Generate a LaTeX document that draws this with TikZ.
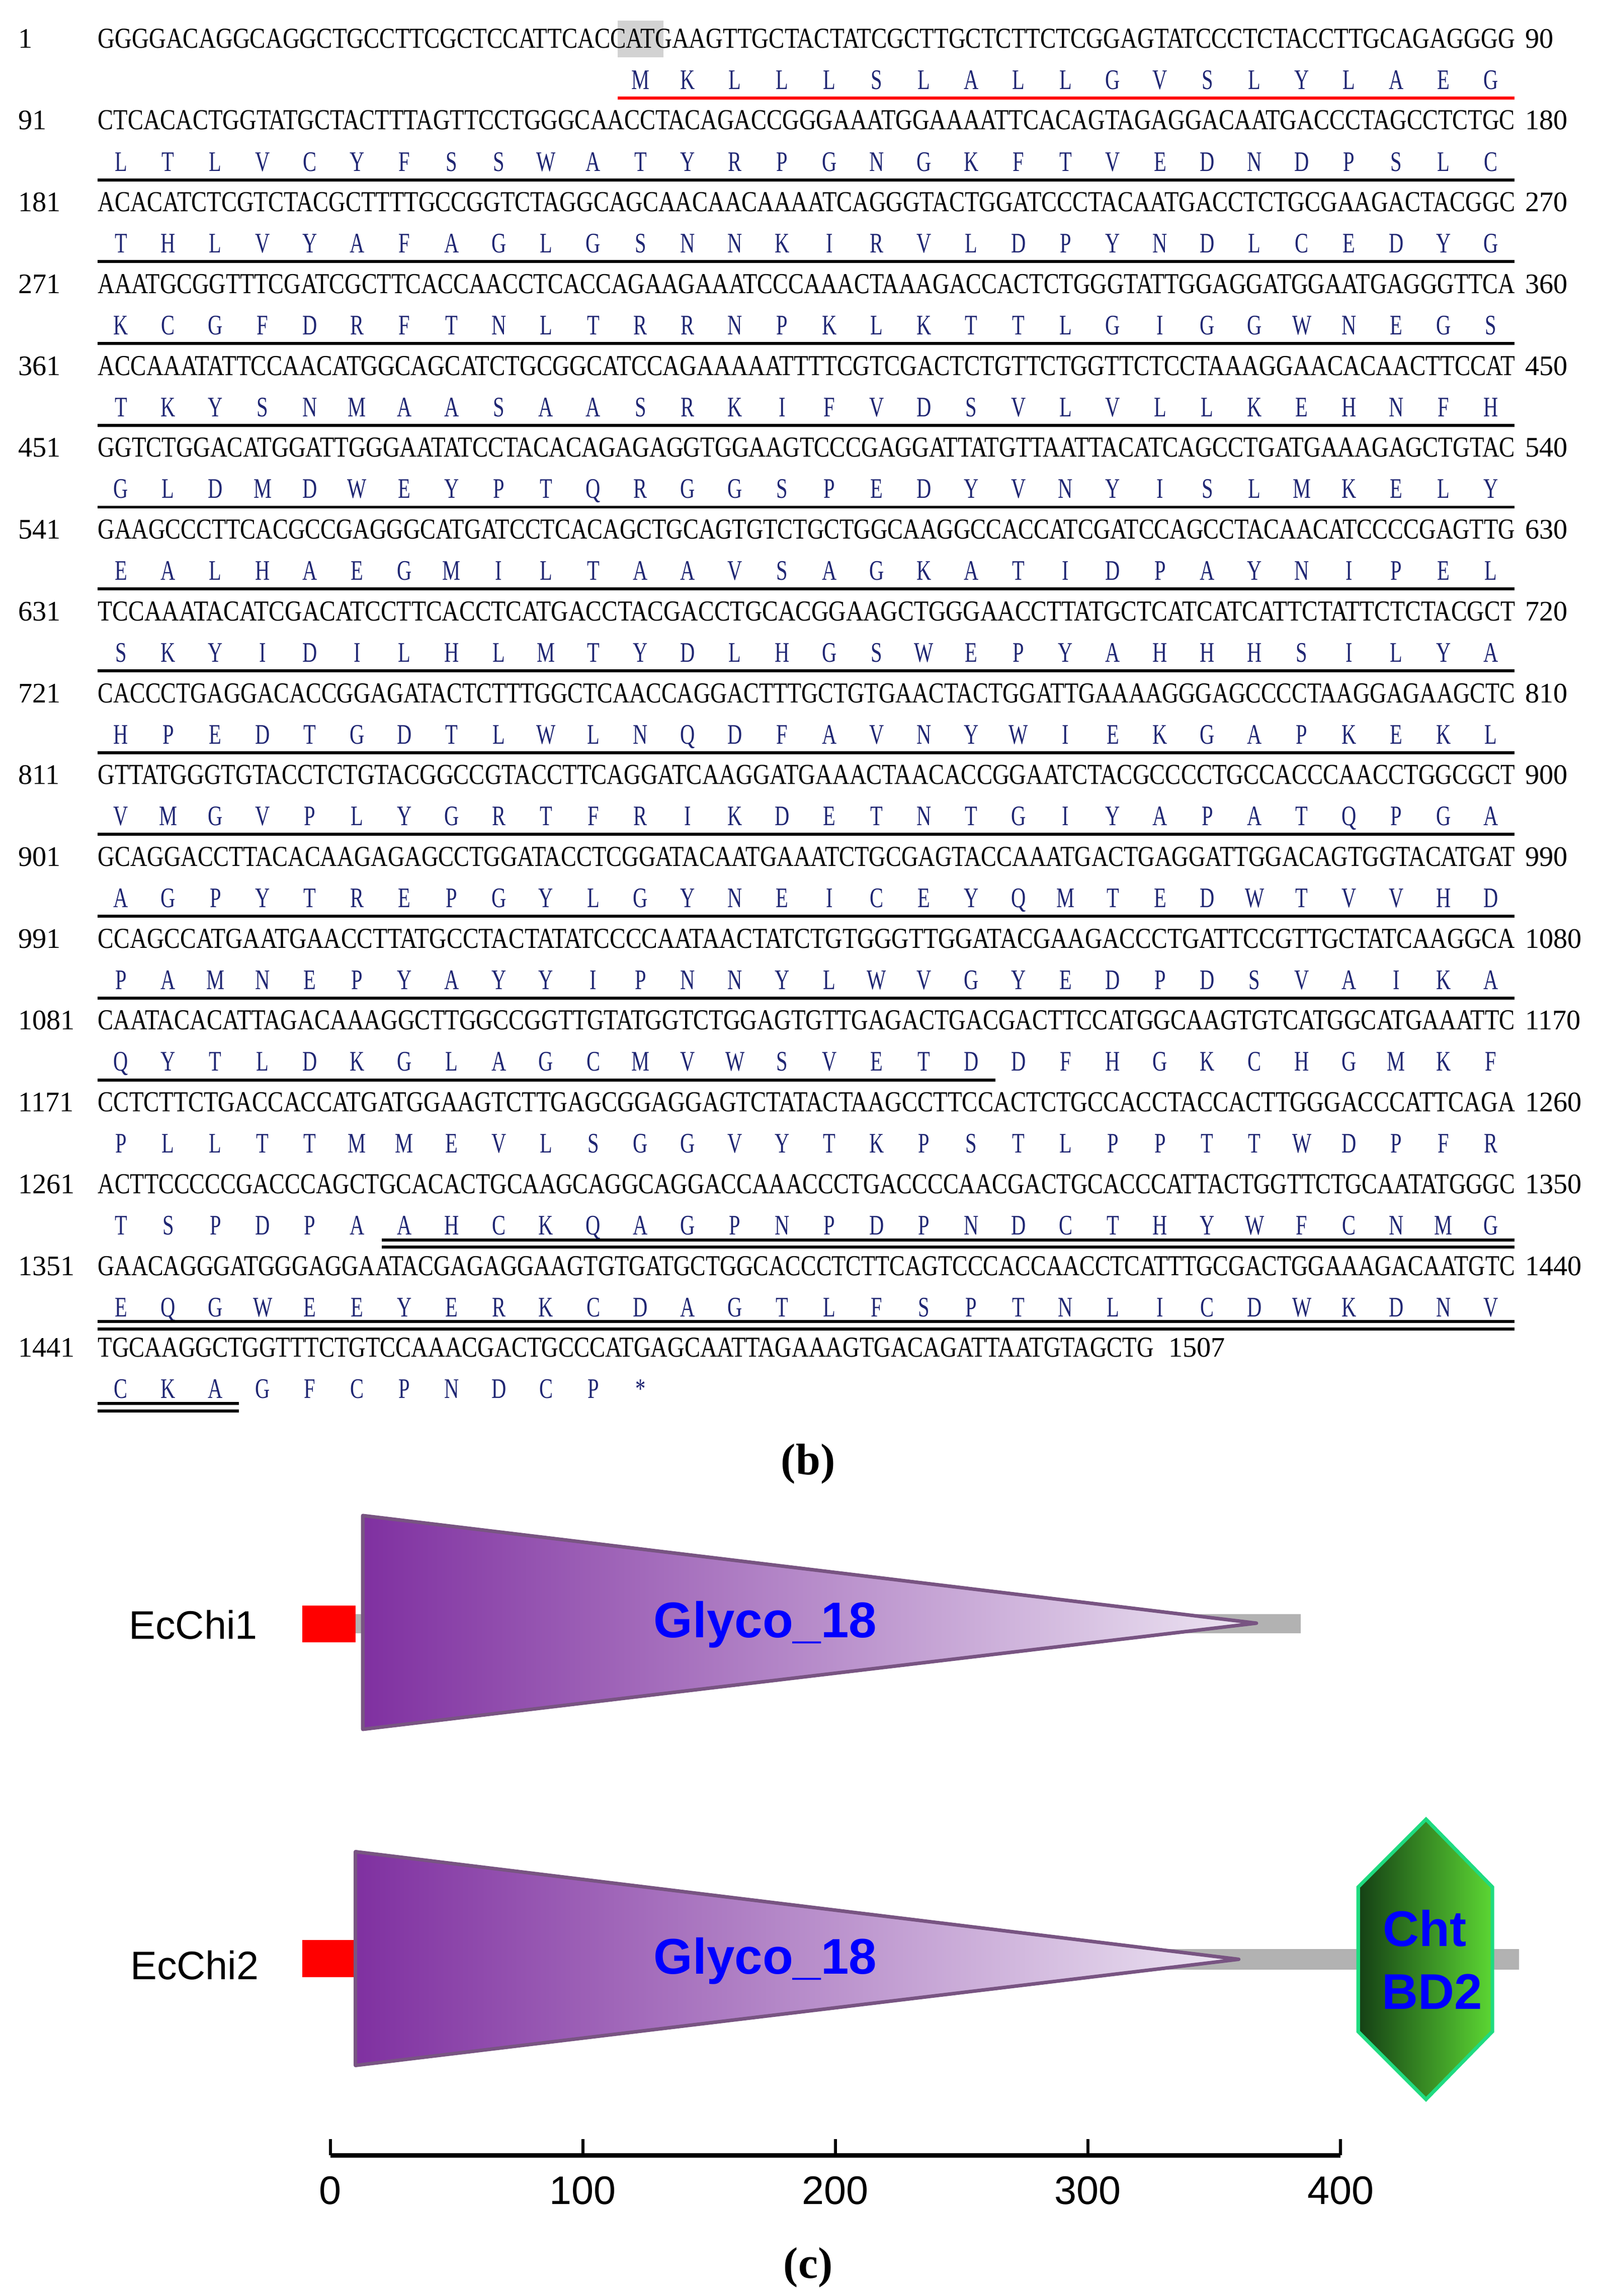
\documentclass[tikz,border=0pt]{standalone}
\usepackage{fontspec}
\setmainfont{Liberation Serif}
\setsansfont{Liberation Sans}
\usepackage{graphicx}
\usetikzlibrary{calc}

\definecolor{aablue}{rgb}{0.12,0.15,0.45}
\definecolor{glyleft}{rgb}{0.50,0.19,0.63}
\definecolor{glyright}{rgb}{0.93,0.90,0.95}
\definecolor{glyedge}{rgb}{0.47,0.33,0.51}
\definecolor{chtleft}{rgb}{0.08,0.25,0.08}
\definecolor{chtright}{rgb}{0.36,0.84,0.20}
\definecolor{chtedge}{rgb}{0.12,0.86,0.50}

\tikzset{
  numlab/.style={anchor=base west,inner sep=0,font=\fontsize{9.6}{10}\selectfont},
  aalab/.style={anchor=base,inner sep=0,text=aablue},
  uline/.style={line width=1pt},
  redline/.style={line width=1pt,color=red},
  protlab/.style={font=\sffamily\fontsize{13.5}{16}\selectfont},
  domlab/.style={font=\sffamily\bfseries\fontsize{17}{20}\selectfont,text=blue},
  ticklab/.style={font=\sffamily\fontsize{13.5}{16}\selectfont},
  panellab/.style={font=\bfseries\fontsize{15}{18}\selectfont}
}

% #1 row, #2 left number, #3 bases, #4 right number, #5 width in units
\newcommand{\ntrow}[5]{%
  \node[numlab] (l#1) at (12,{32.5+55.5*(#1-1)}) {#2};
  \node[anchor=base west,inner sep=0] (s#1) at (66,{32.5+55.5*(#1-1)})
    {\resizebox{#5\sequnit}{6.5pt}{#3}};
  \node[numlab] (r#1) at ([xshift=3pt]s#1.base east) {#4};
}
% #1 row, #2 codon offset, #3 residues
\newcommand{\aarow}[3]{%
  \foreach \res [count=\k] in {#3}
    \node[aalab] (a#1-\k) at ({66+32.03*(#2+\k-0.5)},{60.5+55.5*(#1-1)})
      {\scalebox{0.72}[1]{\fontsize{9.6}{10}\selectfont\res}};
}
\newlength{\sequnit}
\setlength{\sequnit}{0.5pt}

\begin{document}
\begin{tikzpicture}[x=0.5pt,y=0.5pt,yscale=-1]
\useasboundingbox (0,0) rectangle (1085,1557.4);

% (b) sequence
\fill[gray!35] (419,14) rectangle (450,39);
\ntrow{1}{1}{GGGGACAGGCAGGCTGCCTTCGCTCCATTCACCATGAAGTTGCTACTATCGCTTGCTCTTCTCGGAGTATCCCTCTACCTTGCAGAGGGG}{90}{961}
\ntrow{2}{91}{CTCACACTGGTATGCTACTTTAGTTCCTGGGCAACCTACAGACCGGGAAATGGAAAATTCACAGTAGAGGACAATGACCCTAGCCTCTGC}{180}{961}
\ntrow{3}{181}{ACACATCTCGTCTACGCTTTTGCCGGTCTAGGCAGCAACAACAAAATCAGGGTACTGGATCCCTACAATGACCTCTGCGAAGACTACGGC}{270}{961}
\ntrow{4}{271}{AAATGCGGTTTCGATCGCTTCACCAACCTCACCAGAAGAAATCCCAAACTAAAGACCACTCTGGGTATTGGAGGATGGAATGAGGGTTCA}{360}{961}
\ntrow{5}{361}{ACCAAATATTCCAACATGGCAGCATCTGCGGCATCCAGAAAAATTTTCGTCGACTCTGTTCTGGTTCTCCTAAAGGAACACAACTTCCAT}{450}{961}
\ntrow{6}{451}{GGTCTGGACATGGATTGGGAATATCCTACACAGAGAGGTGGAAGTCCCGAGGATTATGTTAATTACATCAGCCTGATGAAAGAGCTGTAC}{540}{961}
\ntrow{7}{541}{GAAGCCCTTCACGCCGAGGGCATGATCCTCACAGCTGCAGTGTCTGCTGGCAAGGCCACCATCGATCCAGCCTACAACATCCCCGAGTTG}{630}{961}
\ntrow{8}{631}{TCCAAATACATCGACATCCTTCACCTCATGACCTACGACCTGCACGGAAGCTGGGAACCTTATGCTCATCATCATTCTATTCTCTACGCT}{720}{961}
\ntrow{9}{721}{CACCCTGAGGACACCGGAGATACTCTTTGGCTCAACCAGGACTTTGCTGTGAACTACTGGATTGAAAAGGGAGCCCCTAAGGAGAAGCTC}{810}{961}
\ntrow{10}{811}{GTTATGGGTGTACCTCTGTACGGCCGTACCTTCAGGATCAAGGATGAAACTAACACCGGAATCTACGCCCCTGCCACCCAACCTGGCGCT}{900}{961}
\ntrow{11}{901}{GCAGGACCTTACACAAGAGAGCCTGGATACCTCGGATACAATGAAATCTGCGAGTACCAAATGACTGAGGATTGGACAGTGGTACATGAT}{990}{961}
\ntrow{12}{991}{CCAGCCATGAATGAACCTTATGCCTACTATATCCCCAATAACTATCTGTGGGTTGGATACGAAGACCCTGATTCCGTTGCTATCAAGGCA}{1080}{961}
\ntrow{13}{1081}{CAATACACATTAGACAAAGGCTTGGCCGGTTGTATGGTCTGGAGTGTTGAGACTGACGACTTCCATGGCAAGTGTCATGGCATGAAATTC}{1170}{961}
\ntrow{14}{1171}{CCTCTTCTGACCACCATGATGGAAGTCTTGAGCGGAGGAGTCTATACTAAGCCTTCCACTCTGCCACCTACCACTTGGGACCCATTCAGA}{1260}{961}
\ntrow{15}{1261}{ACTTCCCCCGACCCAGCTGCACACTGCAAGCAGGCAGGACCAAACCCTGACCCCAACGACTGCACCCATTACTGGTTCTGCAATATGGGC}{1350}{961}
\ntrow{16}{1351}{GAACAGGGATGGGAGGAATACGAGAGGAAGTGTGATGCTGGCACCCTCTTCAGTCCCACCAACCTCATTTGCGACTGGAAAGACAATGTC}{1440}{961}
\ntrow{17}{1441}{TGCAAGGCTGGTTTCTGTCCAAACGACTGCCCATGAGCAATTAGAAAGTGACAGATTAATGTAGCTG}{\,1507}{716}

\aarow{1}{11}{M,K,L,L,L,S,L,A,L,L,G,V,S,L,Y,L,A,E,G}
\aarow{2}{0}{L,T,L,V,C,Y,F,S,S,W,A,T,Y,R,P,G,N,G,K,F,T,V,E,D,N,D,P,S,L,C}
\aarow{3}{0}{T,H,L,V,Y,A,F,A,G,L,G,S,N,N,K,I,R,V,L,D,P,Y,N,D,L,C,E,D,Y,G}
\aarow{4}{0}{K,C,G,F,D,R,F,T,N,L,T,R,R,N,P,K,L,K,T,T,L,G,I,G,G,W,N,E,G,S}
\aarow{5}{0}{T,K,Y,S,N,M,A,A,S,A,A,S,R,K,I,F,V,D,S,V,L,V,L,L,K,E,H,N,F,H}
\aarow{6}{0}{G,L,D,M,D,W,E,Y,P,T,Q,R,G,G,S,P,E,D,Y,V,N,Y,I,S,L,M,K,E,L,Y}
\aarow{7}{0}{E,A,L,H,A,E,G,M,I,L,T,A,A,V,S,A,G,K,A,T,I,D,P,A,Y,N,I,P,E,L}
\aarow{8}{0}{S,K,Y,I,D,I,L,H,L,M,T,Y,D,L,H,G,S,W,E,P,Y,A,H,H,H,S,I,L,Y,A}
\aarow{9}{0}{H,P,E,D,T,G,D,T,L,W,L,N,Q,D,F,A,V,N,Y,W,I,E,K,G,A,P,K,E,K,L}
\aarow{10}{0}{V,M,G,V,P,L,Y,G,R,T,F,R,I,K,D,E,T,N,T,G,I,Y,A,P,A,T,Q,P,G,A}
\aarow{11}{0}{A,G,P,Y,T,R,E,P,G,Y,L,G,Y,N,E,I,C,E,Y,Q,M,T,E,D,W,T,V,V,H,D}
\aarow{12}{0}{P,A,M,N,E,P,Y,A,Y,Y,I,P,N,N,Y,L,W,V,G,Y,E,D,P,D,S,V,A,I,K,A}
\aarow{13}{0}{Q,Y,T,L,D,K,G,L,A,G,C,M,V,W,S,V,E,T,D,D,F,H,G,K,C,H,G,M,K,F}
\aarow{14}{0}{P,L,L,T,T,M,M,E,V,L,S,G,G,V,Y,T,K,P,S,T,L,P,P,T,T,W,D,P,F,R}
\aarow{15}{0}{T,S,P,D,P,A,A,H,C,K,Q,A,G,P,N,P,D,P,N,D,C,T,H,Y,W,F,C,N,M,G}
\aarow{16}{0}{E,Q,G,W,E,E,Y,E,R,K,C,D,A,G,T,L,F,S,P,T,N,L,I,C,D,W,K,D,N,V}
\aarow{17}{0}{C,K,A,G,F,C,P,N,D,C,P,*}

% underlines
\draw[redline] (419,66.5) -- (1027,66.5);
\foreach \r in {2,...,12}
  \draw[uline] (66,{66.5+55.5*(\r-1)}) -- (1027,{66.5+55.5*(\r-1)});
\draw[uline] (66,{66.5+55.5*12}) -- (675,{66.5+55.5*12});
\foreach \d in {-2.5,2.5}{
  \draw[uline] (259,{66.5+55.5*14+\d}) -- (1027,{66.5+55.5*14+\d});
  \draw[uline] (66,{66.5+55.5*15+\d}) -- (1027,{66.5+55.5*15+\d});
  \draw[uline] (66,{66.5+55.5*16+\d}) -- (162,{66.5+55.5*16+\d});
}
\node[panellab] (pb) at (548,993) {(b)};

% (c) domains
\fill[gray!60] (241,1095) rectangle (882,1108);
\fill[red] (205,1089) rectangle (241,1114);
\shade[left color=glyleft,right color=glyright] (246,1028) -- (852,1101) -- (246,1173) -- cycle;
\draw[glyedge,line width=1.2pt,line join=round] (246,1028) -- (852,1101) -- (246,1173) -- cycle;
\node[protlab] (chi1) at (131,1102) {EcChi1};
\node[domlab] (gly1) at (519,1102) {Glyco\_18};

\fill[gray!60] (240,1322) rectangle (1030,1336);
\fill[red] (205,1316) rectangle (240,1341);
\shade[left color=glyleft,right color=glyright] (241,1256) -- (840,1329) -- (241,1401) -- cycle;
\draw[glyedge,line width=1.2pt,line join=round] (241,1256) -- (840,1329) -- (241,1401) -- cycle;
\shade[left color=chtleft,right color=chtright] (967,1234) -- (1012,1280) -- (1012,1378) -- (967,1424) -- (921,1378) -- (921,1280) -- cycle;
\draw[chtedge,line width=1.2pt] (967,1234) -- (1012,1280) -- (1012,1378) -- (967,1424) -- (921,1378) -- (921,1280) -- cycle;
\node[protlab] (chi2) at (132,1333) {EcChi2};
\node[domlab] (gly2) at (519,1330) {Glyco\_18};
\node[domlab,inner sep=0] (cht) at (966,1308) {Cht};
\node[domlab,inner sep=0] (bd2) at (971,1351) {BD2};

% scale bar
\draw[line width=1.6pt] (224,1462) -- (909,1462);
\foreach \v [count=\i] in {0,100,200,300,400}{
  \draw[line width=1pt] ({224+1.7125*\v},1462) -- ({224+1.7125*\v},1451);
  \node[ticklab] (t\i) at ({224+1.7125*\v},1486) {\v};
}
\node[panellab] (pc) at (548,1538) {(c)};
\end{tikzpicture}
\end{document}
